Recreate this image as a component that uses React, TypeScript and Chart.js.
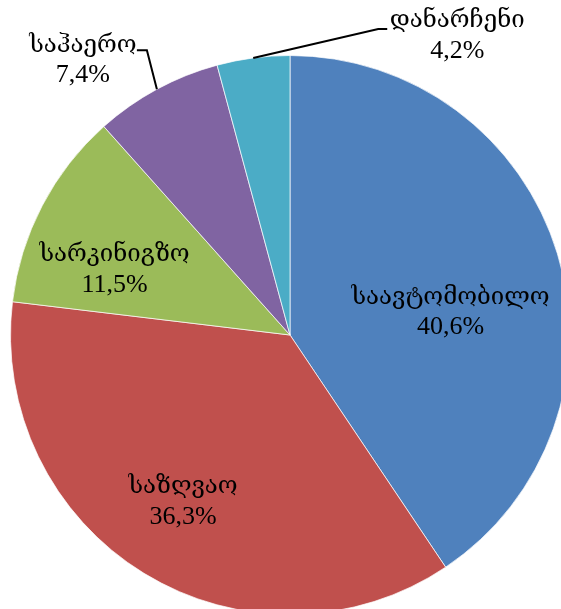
import React, { useEffect, useRef } from "react";
import { Chart, registerables } from "chart.js";

Chart.register(...registerables);

const categories = ["საავტომობილო", "საზღვაო", "სარკინიგზო", "საჰაერო", "დანარჩენი"];
const shares = [40.6, 36.3, 11.5, 7.4, 4.2];
const valueLabels = ["40,6%", "36,3%", "11,5%", "7,4%", "4,2%"];
const colors = ["#4F81BD", "#C0504D", "#9BBB59", "#8064A2", "#4BACC6"];

const NAME_FONT = "24px 'Liberation Serif', 'Times New Roman', 'DejaVu Serif', serif";
const VALUE_FONT = "26px 'Liberation Serif', 'Times New Roman', 'DejaVu Serif', serif";

// label placement: inside labels use polar (angle deg from top, radius fraction); callouts use elbow lines
type Place =
  | { kind: "inside"; angle: number; frac: number }
  | { kind: "callout"; elbowDx: number; elbowDy: number; tail: number; textDx: number; textDy: number };

const placement: Place[] = [
  { kind: "inside", angle: 82, frac: 0.58 },
  { kind: "inside", angle: 212.6, frac: 0.71 },
  { kind: "inside", angle: 290.4, frac: 0.67 },
  { kind: "callout", elbowDx: -10, elbowDy: -39, tail: -10, textDx: -74, textDy: -29 },
  { kind: "callout", elbowDx: 125, elbowDy: -29, tail: 9, textDx: 204, textDy: -22 },
];

const labelPlugin = {
  id: "pieLabels",
  afterDraw(chart: any) {
    const ctx = chart.ctx;
    const meta = chart.getDatasetMeta(0);
    ctx.save();
    ctx.fillStyle = "#000";
    ctx.textAlign = "center";
    ctx.textBaseline = "middle";
    const drawText = (i: number, cx: number, cy: number) => {
      ctx.font = NAME_FONT;
      ctx.fillText(categories[i], cx, cy - 15);
      ctx.font = VALUE_FONT;
      ctx.fillText(valueLabels[i], cx, cy + 15);
    };
    meta.data.forEach((arc: any, i: number) => {
      const { x, y, startAngle, endAngle, outerRadius } = arc.getProps(
        ["x", "y", "startAngle", "endAngle", "outerRadius"],
        true
      );
      const p = placement[i];
      if (p.kind === "inside") {
        const a = (p.angle * Math.PI) / 180;
        const cx = x + Math.sin(a) * outerRadius * p.frac;
        const cy = y - Math.cos(a) * outerRadius * p.frac;
        drawText(i, cx, cy);
      } else {
        const mid = (startAngle + endAngle) / 2;
        const ax = x + Math.cos(mid) * outerRadius;
        const ay = y + Math.sin(mid) * outerRadius;
        const ex = ax + p.elbowDx;
        const ey = ay + p.elbowDy;
        ctx.beginPath();
        ctx.strokeStyle = "#000";
        ctx.lineWidth = 2;
        ctx.moveTo(ax, ay);
        ctx.lineTo(ex, ey);
        ctx.lineTo(ex + p.tail, ey);
        ctx.stroke();
        drawText(i, ax + p.textDx, ay + p.textDy);
      }
    });
    ctx.restore();
  },
};

export default function App() {
  const ref = useRef<HTMLCanvasElement | null>(null);
  useEffect(() => {
    document.body.style.margin = "0";
    if (!ref.current) return;
    const chart = new Chart(ref.current, {
      type: "pie",
      data: {
        labels: categories,
        datasets: [
          {
            data: shares,
            backgroundColor: colors,
            borderColor: "rgba(255,255,255,0.7)",
            borderWidth: 1,
          },
        ],
      },
      options: {
        responsive: false,
        animation: false,
        devicePixelRatio: 1,
        layout: { padding: { left: 10, right: 10, top: 55, bottom: 55 } },
        plugins: { legend: { display: false }, tooltip: { enabled: false } },
      },
      plugins: [labelPlugin],
    });
    return () => chart.destroy();
  }, []);
  return (
    <div
      style={{
        position: "fixed",
        left: 0,
        top: 0,
        width: 561,
        height: 609,
        overflow: "hidden",
        background: "#fff",
      }}
    >
      <canvas ref={ref} width={580} height={670} style={{ position: "absolute", left: 0, top: 0 }} />
    </div>
  );
}
